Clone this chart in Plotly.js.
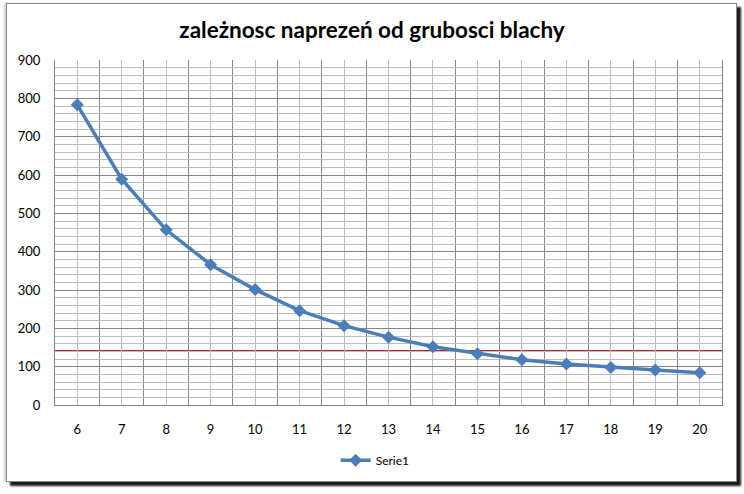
<!DOCTYPE html>
<html>
<head>
<meta charset="utf-8">
<script src="https://cdn.plot.ly/plotly-3.0.1.min.js"></script>
<style>
  body { margin: 0; background: #ffffff; }
  #frame {
    position: absolute; left: 6px; top: 3px; width: 729px; height: 477px;
    border: 1px solid #8a8a8a; background: #ffffff;
    box-shadow: 4px 4px 2px #1a1a1a, -2px 0 2px #d0d0d0;
  }
  #myDiv { position: absolute; left: 0; top: 0; width: 744px; height: 494px; }
</style>
</head>
<body>
<div id="frame"></div>
<div id="myDiv"></div>
<script>
// grubosc blachy (categories) and naprezenia (Serie1)
let thickness = [6, 7, 8, 9, 10, 11, 12, 13, 14, 15, 16, 17, 18, 19, 20];
let stress = [783, 589, 457, 366, 301, 246, 207, 177, 152, 134, 118, 107, 98, 91, 84];
let tickLabels = ['6', '7', '8', '9', '10', '11', '12', '13', '14', '15', '16', '17', '18', '19', '20'];
// red limit line
let limitValue = 142;
// category boundaries for the darker vertical grid
let boundaries = [5.5, 6.5, 7.5, 8.5, 9.5, 10.5, 11.5, 12.5, 13.5, 14.5, 15.5, 16.5, 17.5, 18.5, 19.5, 20.5];

let trace1 = {
    x: thickness,
    y: stress,
    name: 'Serie1',
    type: 'scatter',
    mode: 'lines+markers',
    line: {color: '#4a7ebb', width: 3.5},
    marker: {symbol: 'diamond', size: 10, color: '#4a7ebb'}
};

let layout = {
    width: 744,
    height: 494,
    margin: {l: 55, r: 21.5, t: 59.5, b: 88.5},
    paper_bgcolor: 'rgba(0,0,0,0)',
    plot_bgcolor: '#ffffff',
    font: {family: 'Lato, "Open Sans", sans-serif', size: 13, color: '#000000'},
    title: {
        text: 'zależnosc naprezeń od grubosci blachy',
        font: {family: 'Lato, "Open Sans", sans-serif', size: 22.5, color: '#000000', weight: 'bold'},
        x: 0.5, xref: 'container', xanchor: 'center',
        y: 0.939, yref: 'container', yanchor: 'middle'
    },
    xaxis: {
        range: [5.5, 20.5],
        tickmode: 'array',
        tickvals: thickness,
        ticktext: tickLabels,
        ticks: '',
        ticklabelstandoff: 12,
        showgrid: true,
        gridcolor: '#bdbdbd',
        gridwidth: 1,
        minor: {tickmode: 'array', tickvals: boundaries, showgrid: true, gridcolor: '#858585', gridwidth: 1},
        showline: true,
        linecolor: '#858585',
        zeroline: false,
        fixedrange: true
    },
    yaxis: {
        range: [0, 900],
        tick0: 0,
        dtick: 100,
        ticks: '',
        ticklabelstandoff: 11,
        showgrid: true,
        gridcolor: '#858585',
        gridwidth: 1,
        minor: {tick0: 0, dtick: 20, showgrid: true, gridcolor: '#bdbdbd', gridwidth: 1},
        showline: true,
        linecolor: '#858585',
        mirror: true,
        zeroline: false,
        fixedrange: true
    },
    showlegend: true,
    legend: {
        orientation: 'h',
        x: 0.48, xanchor: 'center',
        y: -0.16, yanchor: 'middle',
        itemwidth: 30,
        font: {size: 12},
        bgcolor: 'rgba(0,0,0,0)'
    },
    shapes: [{
        type: 'line',
        xref: 'paper', x0: 0, x1: 1,
        yref: 'y', y0: limitValue, y1: limitValue,
        line: {color: '#c8202a', width: 1.2},
        layer: 'below'
    }]
};

Plotly.newPlot('myDiv', [trace1], layout, {displayModeBar: false, staticPlot: true});
</script>
</body>
</html>
